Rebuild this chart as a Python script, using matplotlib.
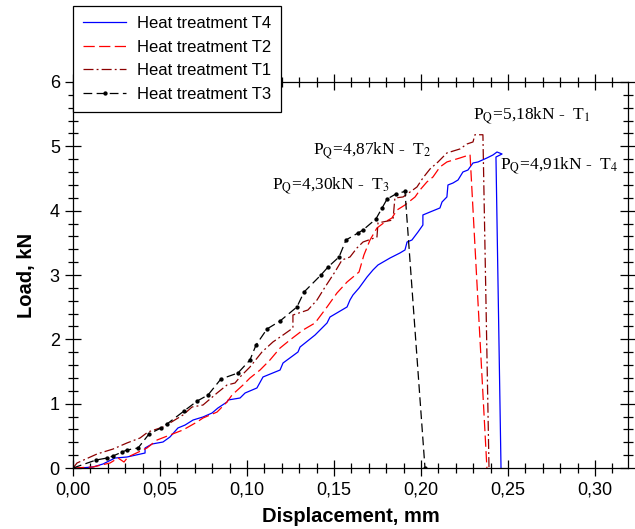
import numpy as np
import matplotlib
matplotlib.use("Agg")
import matplotlib.pyplot as plt
from matplotlib.ticker import MultipleLocator, FuncFormatter

plt.rcParams['font.family'] = ['Liberation Sans', 'DejaVu Sans']
plt.rcParams['mathtext.fontset'] = 'stix'

# Heat treatment T4 (blue, solid)
t4_x = [0.0, 0.004, 0.0115, 0.0172, 0.0241, 0.031, 0.0414, 0.0414, 0.0454, 0.0517,
        0.0557, 0.0603, 0.0644, 0.069, 0.0747, 0.0799, 0.0833, 0.0885, 0.0891, 0.096,
        0.0989, 0.1057, 0.1092, 0.119, 0.1207, 0.1293, 0.1305, 0.1391, 0.146, 0.1477,
        0.1575, 0.1592, 0.1609, 0.1644, 0.169, 0.1724, 0.1753, 0.1822, 0.1879, 0.1908,
        0.192, 0.1948, 0.1983, 0.2011, 0.2011, 0.2052, 0.2109, 0.2121, 0.2149, 0.2155,
        0.2184, 0.2213, 0.2241, 0.227, 0.2299, 0.2328, 0.2379, 0.2414, 0.2437, 0.2466,
        0.2431, 0.246]
t4_y = [0.0, 0.0, 0.016, 0.062, 0.155, 0.171, 0.233, 0.311, 0.373, 0.404,
        0.482, 0.622, 0.668, 0.746, 0.793, 0.855, 0.933, 1.026, 1.057, 1.088,
        1.166, 1.244, 1.415, 1.523, 1.632, 1.803, 1.881, 2.067, 2.254, 2.347,
        2.503, 2.612, 2.689, 2.798, 2.969, 3.078, 3.156, 3.264, 3.342, 3.389,
        3.513, 3.544, 3.669, 3.777, 3.933, 3.979, 4.042, 4.135, 4.213, 4.399,
        4.43, 4.477, 4.601, 4.632, 4.741, 4.757, 4.819, 4.866, 4.912, 4.881,
        4.834, 0.0]

# Heat treatment T2 (red, dashed)
t2_x = [0.0, 0.0115, 0.0213, 0.0259, 0.0293, 0.0316, 0.0425, 0.0483, 0.0557, 0.0632,
        0.0713, 0.0747, 0.0828, 0.0885, 0.0914, 0.0977, 0.1017, 0.1075, 0.1132, 0.119,
        0.1247, 0.1322, 0.1391, 0.146, 0.1517, 0.1575, 0.1644, 0.1672, 0.1707, 0.1747,
        0.1793, 0.1833, 0.1862, 0.1908, 0.1966, 0.1994, 0.2034, 0.2069, 0.2109, 0.2149,
        0.2224, 0.2282, 0.2379]
t2_y = [0.0, 0.016, 0.078, 0.155, 0.093, 0.171, 0.311, 0.435, 0.513, 0.591,
        0.715, 0.777, 0.870, 1.026, 1.135, 1.290, 1.399, 1.523, 1.679, 1.865,
        1.99, 2.145, 2.254, 2.503, 2.72, 2.891, 3.047, 3.311, 3.544, 3.731,
        3.824, 3.886, 4.01, 4.088, 4.213, 4.321, 4.446, 4.524, 4.679, 4.757,
        4.819, 4.87, 0.0]

# Heat treatment T1 (dark red, dash-dot)
t1_x = [0.0, 0.0023, 0.0138, 0.023, 0.031, 0.0385, 0.0431, 0.0517, 0.0557, 0.0632,
        0.0684, 0.0747, 0.0828, 0.0885, 0.0931, 0.096, 0.1017, 0.1086, 0.1149, 0.1207,
        0.1264, 0.1264, 0.135, 0.1402, 0.1448, 0.1506, 0.1546, 0.1592, 0.1632, 0.1667,
        0.1747, 0.1753, 0.1839, 0.185, 0.1897, 0.1937, 0.1977, 0.2011, 0.2052, 0.2098,
        0.2149, 0.2224, 0.2264, 0.2299, 0.231, 0.2356, 0.2391]
t1_y = [0.0, 0.078, 0.218, 0.295, 0.389, 0.466, 0.56, 0.637, 0.7, 0.824,
        0.948, 0.979, 1.166, 1.29, 1.321, 1.415, 1.57, 1.803, 1.959, 2.067,
        2.176, 2.378, 2.456, 2.61, 2.81, 3.05, 3.233, 3.28, 3.42, 3.513,
        3.59, 3.81, 3.855, 4.197, 4.213, 4.29, 4.368, 4.508, 4.648, 4.757,
        4.897, 4.959, 5.036, 5.068, 5.18, 5.18, 0.0]

# Heat treatment T3 (black, dashed with dots)
t3_x = [0.0, 0.0132, 0.0195, 0.023, 0.0282, 0.031, 0.0374, 0.0437, 0.0506, 0.054,
        0.0638, 0.0713, 0.0776, 0.085, 0.0948, 0.1017, 0.1052, 0.1115, 0.119, 0.1287,
        0.1328, 0.1425, 0.1466, 0.1529, 0.1569, 0.1638, 0.1667, 0.1741, 0.1776, 0.1805,
        0.1856, 0.1908, 0.2023]
t3_y = [0.0, 0.124, 0.155, 0.187, 0.249, 0.28, 0.311, 0.529, 0.622, 0.684,
        0.886, 1.04, 1.135, 1.383, 1.477, 1.679, 1.912, 2.161, 2.285, 2.503,
        2.736, 3.0, 3.125, 3.28, 3.544, 3.653, 3.70, 3.871, 4.04, 4.18,
        4.26, 4.30, 0.0]

# PQ labels: value, subscript, text position (data coords)
pq_vals = [5.18, 4.87, 4.30, 4.91]
pq_names = ['1', '2', '3', '4']
pq_pos = [(0.2299, 5.41), (0.138, 4.866), (0.1144, 4.32), (0.2454, 4.632)]

fig = plt.figure(figsize=(6.35, 5.29), dpi=100)
ax = fig.add_axes([0.115, 0.1153, 0.874, 0.7297])

ax.plot(t4_x, t4_y, color='#0000ff', lw=0.9, label='Heat treatment T4')
ax.plot(t2_x, t2_y, color='#ff0000', lw=0.9, dashes=(9, 3.5), label='Heat treatment T2')
ax.plot(t1_x, t1_y, color='#8b0000', lw=0.9, dashes=(8, 2.5, 1.5, 2.5), label='Heat treatment T1')
ax.plot(t3_x, t3_y, color='black', lw=0.9, dashes=(7, 3.5), marker='o', ms=2.1,
        label='Heat treatment T3')

for v, n, (tx, ty) in zip(pq_vals, pq_names, pq_pos):
    s = r'P$_\mathrm{Q}$=' + ('%.2f' % v).replace('.', ',') + r'kN -  T$_%s$' % n
    ax.text(tx, ty, s, fontsize=12.5, family='Liberation Serif', va='baseline', ha='left')

ax.set_xlim(0, 0.319)
ax.set_ylim(0, 6)
ax.xaxis.set_major_locator(MultipleLocator(0.05))
ax.xaxis.set_minor_locator(MultipleLocator(0.01))
ax.yaxis.set_major_locator(MultipleLocator(1))
ax.yaxis.set_minor_locator(MultipleLocator(0.2))
ax.xaxis.set_major_formatter(FuncFormatter(lambda v, p: ('%.2f' % v).replace('.', ',')))
ax.yaxis.set_major_formatter(FuncFormatter(lambda v, p: '%d' % round(v)))

ax.tick_params(which='both', direction='inout', top=True, right=True, width=0.9, labelsize=13)
ax.tick_params(which='major', length=11, pad=4)
ax.tick_params(which='minor', length=7)
for sp in ax.spines.values():
    sp.set_linewidth(0.9)

ax.set_xlabel('Displacement, mm', fontsize=14.5, fontweight='bold', labelpad=6)
ax.set_ylabel('Load, kN', fontsize=14.5, fontweight='bold', labelpad=10)

leg = ax.legend(loc='upper left', bbox_to_anchor=(73 / 635, 1 - 6 / 529),
                bbox_transform=fig.transFigure, borderaxespad=0, fontsize=12,
                fancybox=False, edgecolor='black', framealpha=1, numpoints=1,
                handlelength=2.6, labelspacing=0.52, borderpad=0.6, handletextpad=0.65)
leg.get_frame().set_linewidth(0.9)

fig.savefig('out.png', dpi=100)
